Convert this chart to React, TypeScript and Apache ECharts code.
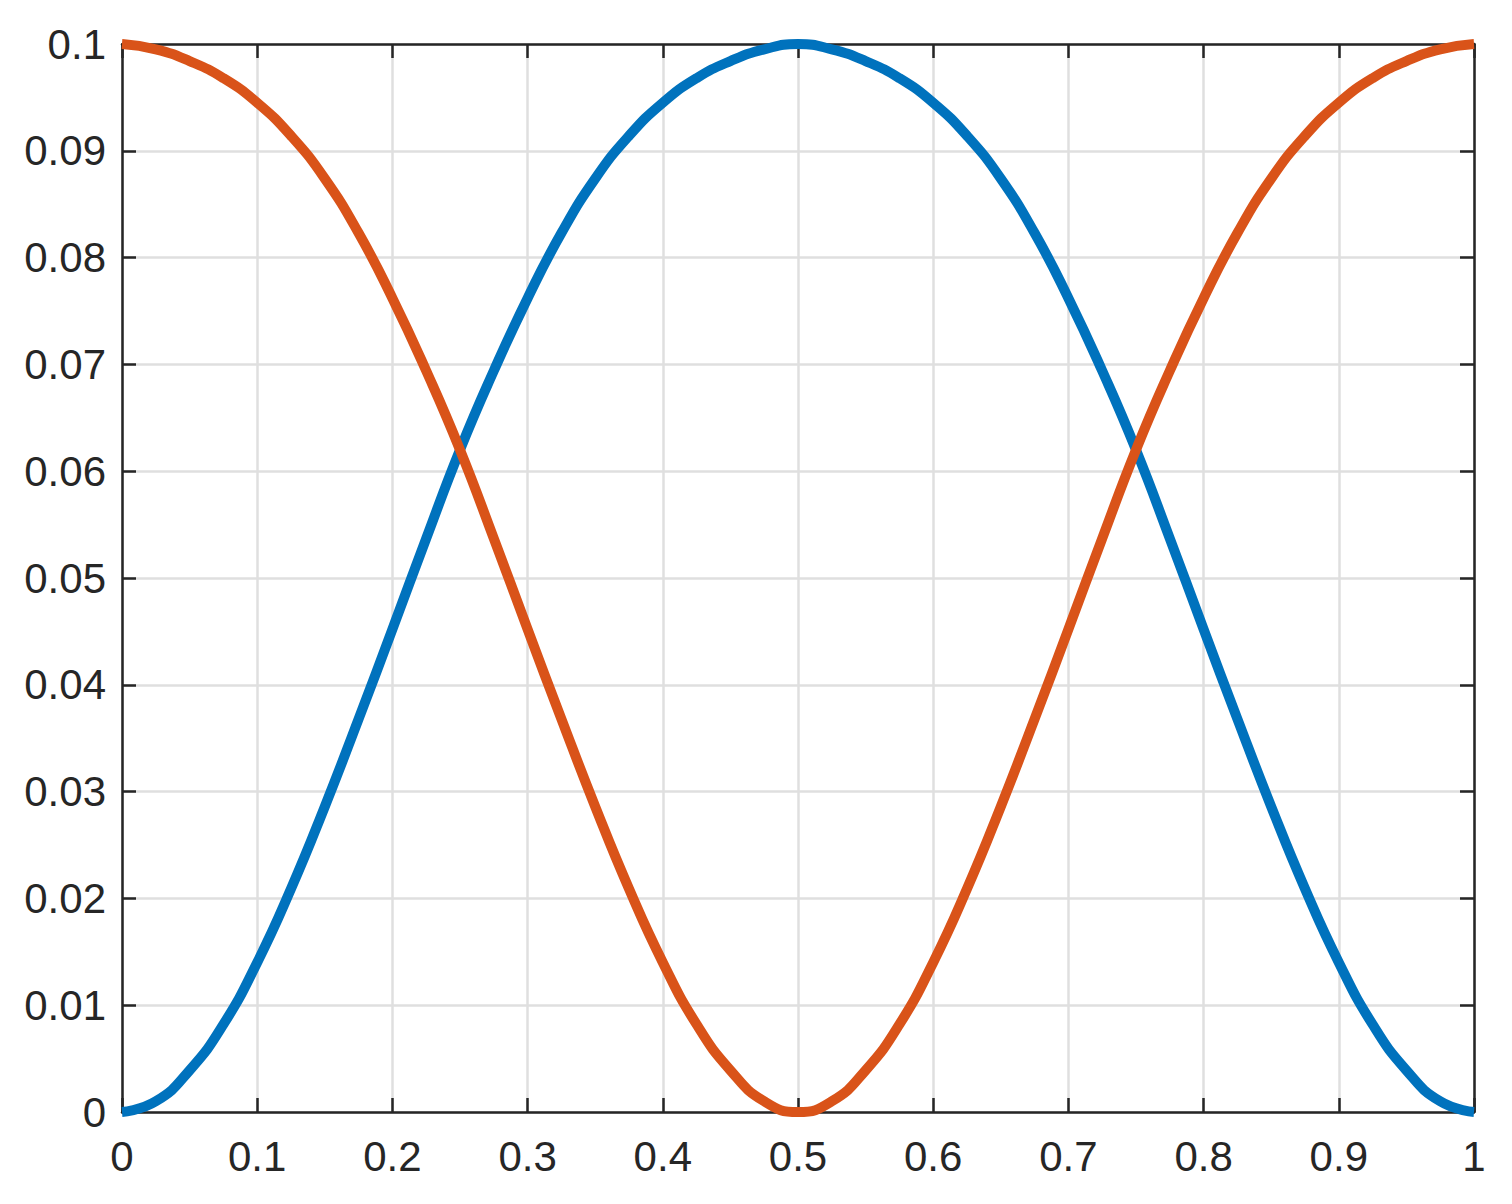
import React, { useEffect, useRef } from "react";
import * as echarts from "echarts";

const xValues = [
  0, 0.025, 0.05, 0.075, 0.1, 0.125, 0.15, 0.175, 0.2, 0.225, 0.25, 0.275, 0.3, 0.325, 0.35, 0.375, 0.4, 0.425, 0.45, 0.475,
  0.5, 0.525, 0.55, 0.575, 0.6, 0.625, 0.65, 0.675, 0.7, 0.725, 0.75, 0.775, 0.8, 0.825, 0.85, 0.875, 0.9, 0.925, 0.95, 0.975, 1,
];

const blueValues = [
  0, 0.001, 0.0039, 0.0082, 0.014, 0.0209, 0.0286, 0.0368, 0.0452, 0.0537, 0.062, 0.0694, 0.0762, 0.0823, 0.0874, 0.0914,
  0.0945, 0.0968, 0.0984, 0.0995, 0.1, 0.0995, 0.0984, 0.0968, 0.0945, 0.0914, 0.0874, 0.0823, 0.0762, 0.0694, 0.062, 0.0537,
  0.0452, 0.0368, 0.0286, 0.0209, 0.014, 0.0082, 0.0039, 0.001, 0,
];

const orangeValues = [
  0.1, 0.0995, 0.0984, 0.0968, 0.0945, 0.0914, 0.0874, 0.0823, 0.0762, 0.0694, 0.062, 0.0537, 0.0452, 0.0368, 0.0286, 0.0209,
  0.014, 0.0082, 0.0039, 0.001, 0, 0.001, 0.0039, 0.0082, 0.014, 0.0209, 0.0286, 0.0368, 0.0452, 0.0537, 0.062, 0.0694,
  0.0762, 0.0823, 0.0874, 0.0914, 0.0945, 0.0968, 0.0984, 0.0995, 0.1,
];

const AXIS_COLOR = "#262626";
const GRID_COLOR = "#dfdfdf";
const FONT = "'Liberation Sans', Arial, sans-serif";

export default function App() {
  const ref = useRef<HTMLDivElement>(null);

  useEffect(() => {
    if (!ref.current) return;
    const chart = echarts.init(ref.current, null, { renderer: "svg" });

    const fmt = (v: number) => String(+Number(v).toFixed(3));

    const baseAxisLine = { show: true, onZero: false, lineStyle: { color: AXIS_COLOR, width: 2.5 } };
    const baseTick = { show: true, inside: true, length: 14, lineStyle: { color: AXIS_COLOR, width: 2.5 } };

    chart.setOption({
      animation: false,
      backgroundColor: "#ffffff",
      grid: { left: 122, top: 44, right: 38, bottom: 92, containLabel: false },
      xAxis: [
        {
          type: "value",
          min: 0,
          max: 1,
          interval: 0.1,
          position: "bottom",
          axisLine: baseAxisLine,
          axisTick: baseTick,
          axisLabel: {
            show: true,
            color: AXIS_COLOR,
            fontSize: 42,
            fontFamily: FONT,
            margin: 23,
            formatter: fmt,
          },
          splitLine: { show: true, lineStyle: { color: GRID_COLOR, width: 2.5 } },
        },
        {
          type: "value",
          min: 0,
          max: 1,
          interval: 0.1,
          position: "top",
          axisLine: baseAxisLine,
          axisTick: baseTick,
          axisLabel: { show: false },
          splitLine: { show: false },
        },
      ],
      yAxis: [
        {
          type: "value",
          min: 0,
          max: 0.1,
          interval: 0.01,
          position: "left",
          axisLine: baseAxisLine,
          axisTick: baseTick,
          axisLabel: {
            show: true,
            color: AXIS_COLOR,
            fontSize: 42,
            fontFamily: FONT,
            margin: 16,
            formatter: fmt,
          },
          splitLine: { show: true, lineStyle: { color: GRID_COLOR, width: 2.5 } },
        },
        {
          type: "value",
          min: 0,
          max: 0.1,
          interval: 0.01,
          position: "right",
          axisLine: baseAxisLine,
          axisTick: baseTick,
          axisLabel: { show: false },
          splitLine: { show: false },
        },
      ],
      series: [
        {
          type: "line",
          xAxisIndex: 0,
          yAxisIndex: 0,
          data: xValues.map((x, i) => [x, blueValues[i]]),
          showSymbol: false,
          smooth: 0.5,
          clip: false,
          lineStyle: { color: "#0072BD", width: 10, cap: "butt", join: "round" },
          itemStyle: { color: "#0072BD" },
          z: 3,
        },
        {
          type: "line",
          xAxisIndex: 0,
          yAxisIndex: 0,
          data: xValues.map((x, i) => [x, orangeValues[i]]),
          showSymbol: false,
          smooth: 0.5,
          clip: false,
          lineStyle: { color: "#D95319", width: 10, cap: "butt", join: "round" },
          itemStyle: { color: "#D95319" },
          z: 4,
        },
      ],
    });

    return () => chart.dispose();
  }, []);

  return (
    <div
      ref={ref}
      style={{ position: "fixed", left: 0, top: 0, width: 1512, height: 1204, background: "#ffffff" }}
    />
  );
}
